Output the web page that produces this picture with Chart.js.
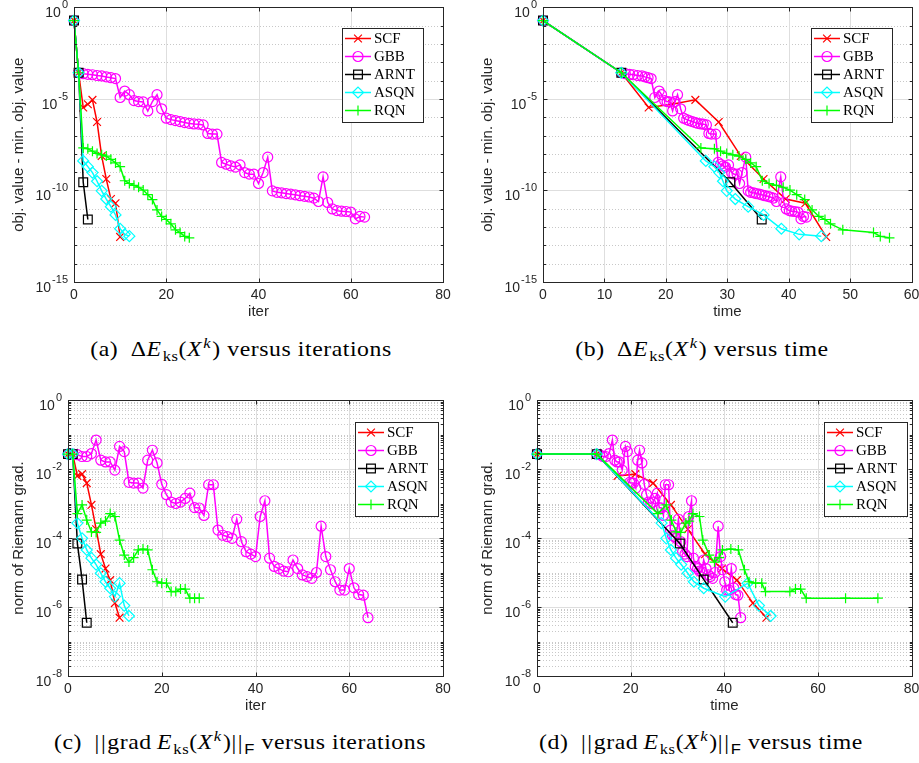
<!DOCTYPE html>
<html>
<head>
<meta charset="utf-8">
<script src="https://cdn.jsdelivr.net/npm/chart.js@4.4.0/dist/chart.umd.min.js"></script>
<style>
  body { margin: 0; background: #fff; }
  #page { position: relative; width: 919px; height: 763px; overflow: hidden; background: #fff; }
  canvas { position: absolute; }
  .cap { position: absolute; font-family: "Liberation Serif", "Times New Roman", serif; font-size: 21px; color: #000; white-space: nowrap; transform: translateX(-50%) scaleX(1.13); line-height: 24px; letter-spacing: 0.5px; }
  .cap .lab { margin-right: 11px; }
  .cap sub, .cap sup { font-size: 70%; line-height: 0; }
  .cap i { margin-right: 1px; }
  .cap .nrm { letter-spacing: 1.5px; font-weight: 300; }
  .cap .sf { font-family: "Liberation Sans", Arial, sans-serif; font-style: normal; }
</style>
</head>
<body>
<div id="page">
  <canvas id="chartA" width="460" height="330" style="left:0;top:0"></canvas>
  <canvas id="chartB" width="459" height="330" style="left:460px;top:0"></canvas>
  <canvas id="chartC" width="460" height="330" style="left:0;top:390px"></canvas>
  <canvas id="chartD" width="459" height="330" style="left:460px;top:390px"></canvas>
  <div class="cap" style="left:241px;top:337px"><span class="lab">(a)</span>&Delta;<i>E</i><sub>ks</sub>(<i>X</i><sup><i>k</i></sup>) versus iterations</div>
  <div class="cap" style="left:702px;top:337px"><span class="lab">(b)</span>&Delta;<i>E</i><sub>ks</sub>(<i>X</i><sup><i>k</i></sup>) versus time</div>
  <div class="cap" style="left:240px;top:730px"><span class="lab">(c)</span><span class="nrm">||</span>grad&#8201;<i>E</i><sub>ks</sub>(<i>X</i><sup><i>k</i></sup>)<span class="nrm">||</span><sub class="sf">F</sub> versus iterations</div>
  <div class="cap" style="left:701px;top:730px"><span class="lab">(d)</span><span class="nrm">||</span>grad&#8201;<i>E</i><sub>ks</sub>(<i>X</i><sup><i>k</i></sup>)<span class="nrm">||</span><sub class="sf">F</sub> versus time</div>
</div>
<script>
// Series (x = iteration index or time in seconds)
const scfTime = [0, 12.75, 17.2, 21.0, 24.8, 28.6, 32.2, 35.9, 39.5, 42.7, 46.1, 49.0];
const scfObj = [1.9e-1, 2.7e-4, 3.4e-6, 5.1e-6, 8.9e-6, 5.5e-7, 7.6e-9, 4.2e-10, 3.4e-11, 2.0e-11, 2.9e-13];
const scfGrad = [2.7e-2, 2.7e-2, 6.3e-3, 7.1e-3, 3.9e-3, 9.1e-4, 1.8e-4, 3.4e-5, 1.3e-5, 6.0e-6, 1.3e-6, 4.9e-7];

const gbbTime = [0, 12.75, 13.4, 14.1, 14.7, 15.4, 16.1, 16.6, 17.1, 17.6,
  18.2, 18.9, 19.3, 19.8, 20.2, 20.6, 21.1, 21.5, 21.9, 22.4,
  22.9, 23.4, 23.8, 24.3, 24.8, 25.2, 25.7, 26.1, 26.6, 27.0,
  27.4, 28.1, 28.5, 28.9, 29.3, 29.7, 30.2, 30.7, 31.1, 31.6,
  32.0, 32.4, 33.0, 33.4, 33.8, 34.3, 34.7, 35.2, 35.6, 36.1,
  36.6, 37.0, 37.5, 38.0, 38.7, 39.2, 39.6, 40.1, 40.5, 41.0,
  41.5, 42.0, 42.4, 42.9, 43.5];
const gbbObj = [1.9e-1, 2.7e-4, 2.4e-4, 2.2e-4, 2.1e-4, 1.9e-4, 1.8e-4, 1.6e-4, 1.45e-4, 1.3e-4,
  1.2e-5, 2.7e-5, 1.7e-5, 8.1e-6, 7.2e-6, 6.9e-6, 2.2e-6, 7.2e-6, 1.7e-5, 2.9e-6,
  8.9e-7, 7.4e-7, 6.6e-7, 5.8e-7, 5.1e-7, 4.6e-7, 4.3e-7, 4.2e-7, 3.8e-7, 1.3e-7,
  1.2e-7, 1.2e-7, 3.4e-9, 2.7e-9, 2.2e-9, 1.9e-9, 2.5e-9, 9.5e-10, 7.8e-10, 7.8e-10,
  2.4e-10, 9.5e-10, 6.6e-9, 9.5e-11, 7.9e-11, 7.4e-11, 6.8e-11, 6.3e-11, 5.8e-11, 5.2e-11,
  4.8e-11, 4.4e-11, 3.8e-11, 2.5e-11, 5.5e-10, 2.2e-11, 9.8e-12, 7.9e-12, 7.4e-12, 7.1e-12,
  6.6e-12, 2.8e-12, 3.8e-12, 3.5e-12];
const gbbGrad = [2.7e-2, 2.7e-2, 2.6e-2, 2.3e-2, 2.3e-2, 2.8e-2, 6.9e-2, 1.8e-2, 1.6e-2, 1.6e-2,
  9.3e-3, 4.5e-2, 3.2e-2, 4.1e-3, 3.9e-3, 3.9e-3, 2.8e-3, 1.8e-2, 3.5e-2, 1.5e-2,
  3.6e-3, 1.8e-3, 1.1e-3, 1.0e-3, 1.1e-3, 1.4e-3, 2.0e-3, 7.6e-4, 7.4e-4, 4.5e-4,
  3.5e-3, 3.5e-3, 1.7e-4, 1.2e-4, 1.1e-4, 9.8e-5, 3.5e-4, 7.8e-5, 4.0e-5, 3.4e-5,
  2.9e-5, 4.2e-4, 1.2e-3, 2.6e-5, 1.5e-5, 1.3e-5, 1.1e-5, 1.05e-5, 2.3e-5, 1.3e-5,
  8.5e-6, 7.6e-6, 6.8e-6, 1.0e-5, 2.2e-4, 2.9e-5, 1.2e-5, 5.4e-6, 3.1e-6, 3.1e-6,
  1.3e-5, 3.6e-6, 2.3e-6, 2.2e-6, 4.9e-7];

const arntTime = [0, 12.75, 30.5, 35.6, 41.8];
const arntObj = [1.9e-1, 2.7e-4, 2.8e-10, 2.6e-12];
const arntGrad = [2.7e-2, 2.7e-2, 6.9e-5, 6.3e-6, 3.5e-7];

const asqnObjTime = [0, 12.75, 26.5, 27.9, 28.7, 29.3, 29.9, 31.3, 33.4, 35.9, 38.8, 41.7, 45.3];
const asqnObj = [1.9e-1, 2.7e-4, 4.1e-9, 2.0e-9, 9.5e-10, 3.2e-10, 9.5e-11, 3.4e-11, 1.3e-11, 4.6e-12, 8.1e-13, 4.0e-13, 3.2e-13];
const asqnGradTime = [0, 12.75, 26.6, 27.6, 28.6, 29.7, 30.8, 32.2, 33.5, 35.6, 40.2, 45.0, 47.4, 49.9];
const asqnGrad = [2.7e-2, 2.7e-2, 2.7e-4, 9.8e-5, 4.5e-5, 2.6e-5, 1.7e-5, 9.5e-6, 5.4e-6, 3.5e-6, 2.0e-6, 4.9e-6, 1.1e-6, 5.5e-7];

const rqnObjTime = [0, 12.75, 25.7, 27.9, 28.9, 29.9, 30.9, 31.9, 33.0, 33.8, 34.7, 35.7, 36.8,
  38.0, 39.1, 40.2, 41.3, 42.6, 43.8, 44.9, 45.9, 46.8, 48.8, 53.8, 54.9, 56.4];
const rqnObj = [1.9e-1, 2.7e-4, 2.1e-8, 1.9e-8, 1.4e-8, 1.05e-8, 8.9e-9, 7.6e-9, 5.0e-9, 3.2e-9, 2.0e-9,
  3.4e-10, 2.4e-10, 1.9e-10, 1.5e-10, 1.05e-10, 5.9e-11, 3.2e-11, 8.7e-12, 3.8e-12, 2.6e-12,
  1.5e-12, 7.1e-13, 5.0e-13, 3.1e-13, 2.6e-13];
const rqnGradTime = [0, 12.75, 25.8, 27.6, 28.7, 29.7, 30.7, 31.8, 32.5, 33.3, 34.7, 35.4, 36.8, 37.9,
  38.9, 39.6, 41.4, 43.0, 44.3, 45.3, 46.7, 48.0, 48.8, 54.0, 55.2, 56.3, 57.5, 65.9, 72.8];
const rqnGrad = [2.7e-2, 2.7e-2, 5.1e-4, 9.1e-4, 3.3e-4, 1.5e-4, 1.45e-4, 2.7e-4, 3.1e-4, 5.1e-4,
  4.2e-4, 8.7e-5, 3.2e-5, 2.0e-5, 2.7e-5, 4.5e-5, 4.8e-5, 4.5e-5, 1.2e-5, 5.4e-6,
  4.9e-6, 4.9e-6, 2.8e-6, 2.8e-6, 3.3e-6, 3.3e-6, 1.8e-6, 1.8e-6, 1.8e-6];

// axis ticks
const iterTicks = [0, 20, 40, 60, 80];
const timeTicksB = [0, 10, 20, 30, 40, 50, 60];
const timeTicksD = [0, 20, 40, 60, 80];
const objYTicks = [1, 1e-5, 1e-10, 1e-15];
const objYLabels = ['0', '-5', '-10', '-15'];
const gradYTicks = [1, 1e-2, 1e-4, 1e-6, 1e-8];
const gradYLabels = ['0', '-2', '-4', '-6', '-8'];

// minor grid positions
const objYMinor = [];
for (let k = -1; k >= -14; k--) if (k % 5 !== 0) objYMinor.push(Math.pow(10, k));
const gradYMinor = [];
for (let k = 0; k >= -8; k--) {
  if (k % 2 !== 0) gradYMinor.push(Math.pow(10, k));
  if (k > -8) for (let m = 2; m <= 9; m++) gradYMinor.push(m * Math.pow(10, k - 1));
}

const methods = [
  { label: 'SCF', color: '#ff0000', pointStyle: 'crossRot', radius: 5.5 },
  { label: 'GBB', color: '#ff00ff', pointStyle: 'circle', radius: 5 },
  { label: 'ARNT', color: '#000000', pointStyle: 'rect', radius: 6.2 },
  { label: 'ASQN', color: '#00ffff', pointStyle: 'rectRot', radius: 5.5 },
  { label: 'RQN', color: '#00ff00', pointStyle: 'cross', radius: 5 }
];

const axisColor = '#262626';
const tickFont = '14px "Liberation Sans", Arial, Helvetica, sans-serif';
const supFont = '11px "Liberation Sans", Arial, Helvetica, sans-serif';
const titleFont = '15px "Liberation Sans", Arial, Helvetica, sans-serif';
const legendFont = '15px "Liberation Serif", "Times New Roman", serif';

function line(ctx, x1, y1, x2, y2) {
  ctx.beginPath();
  ctx.moveTo(x1, y1);
  ctx.lineTo(x2, y2);
  ctx.stroke();
}

// MATLAB-looking axes: grid, box, inward ticks, labels, legend
const matlabAxes = {
  id: 'matlabAxes',
  beforeDatasetsDraw(chart, args, o) {
    const { ctx, chartArea: a } = chart;
    const sx = chart.scales.x, sy = chart.scales.y;
    ctx.save();
    ctx.lineWidth = 1;
    ctx.strokeStyle = '#c8c8c8';
    ctx.setLineDash([1, 2]);
    o.yMinor.forEach(v => {
      const py = Math.round(sy.getPixelForValue(v)) + 0.5;
      line(ctx, a.left, py, a.right, py);
    });
    ctx.setLineDash([]);
    ctx.strokeStyle = '#dedede';
    o.yTicks.forEach(v => {
      const py = Math.round(sy.getPixelForValue(v)) + 0.5;
      line(ctx, a.left, py, a.right, py);
    });
    o.xTicks.forEach(v => {
      const px = Math.round(sx.getPixelForValue(v)) + 0.5;
      line(ctx, px, a.top, px, a.bottom);
    });
    ctx.restore();
  },
  afterDatasetsDraw(chart, args, o) {
    const { ctx, chartArea: a } = chart;
    const sx = chart.scales.x, sy = chart.scales.y;
    ctx.save();
    ctx.strokeStyle = axisColor;
    ctx.fillStyle = axisColor;
    ctx.lineWidth = 1;
    const L = Math.round(a.left) + 0.5, R = Math.round(a.right) + 0.5;
    const T = Math.round(a.top) + 0.5, B = Math.round(a.bottom) + 0.5;
    ctx.strokeRect(L, T, R - L, B - T);

    // ticks
    o.yMinor.forEach(v => {
      const py = Math.round(sy.getPixelForValue(v)) + 0.5;
      line(ctx, L, py, L + 2.5, py);
      line(ctx, R, py, R - 2.5, py);
    });
    o.yTicks.forEach(v => {
      const py = Math.round(sy.getPixelForValue(v)) + 0.5;
      line(ctx, L, py, L + 4, py);
      line(ctx, R, py, R - 4, py);
    });
    o.xTicks.forEach(v => {
      const px = Math.round(sx.getPixelForValue(v)) + 0.5;
      line(ctx, px, B, px, B - 4);
      line(ctx, px, T, px, T + 4);
    });

    // x tick labels
    ctx.font = tickFont;
    ctx.textAlign = 'center';
    ctx.textBaseline = 'middle';
    o.xTicks.forEach(v => ctx.fillText(String(v), sx.getPixelForValue(v), a.bottom + 13));

    // y tick labels as 10^k
    ctx.textAlign = 'left';
    ctx.textBaseline = 'alphabetic';
    o.yTicks.forEach((v, i) => {
      const py = sy.getPixelForValue(v);
      ctx.font = supFont;
      const sup = o.yLabels[i];
      const sw = ctx.measureText(sup).width;
      const supX = a.left - 6 - sw;
      ctx.fillText(sup, supX, py + 1);
      ctx.font = tickFont;
      const bw = ctx.measureText('10').width;
      ctx.fillText('10', supX - bw - 1, py + 10);
    });

    // axis titles
    ctx.font = titleFont;
    ctx.textAlign = 'center';
    ctx.textBaseline = 'middle';
    ctx.fillText(o.xTitle, (a.left + a.right) / 2, a.bottom + 30);
    ctx.save();
    ctx.translate(a.left - o.yTitleOffset, (a.top + a.bottom) / 2);
    ctx.rotate(-Math.PI / 2);
    ctx.fillText(o.yTitle, 0, 0);
    ctx.restore();

    // legend
    const lg = o.legend;
    ctx.fillStyle = '#ffffff';
    ctx.fillRect(lg.left, lg.top, lg.width, lg.height);
    ctx.strokeStyle = axisColor;
    ctx.lineWidth = 1;
    ctx.strokeRect(Math.round(lg.left) + 0.5, Math.round(lg.top) + 0.5, Math.round(lg.width), Math.round(lg.height));
    ctx.font = legendFont;
    ctx.textAlign = 'left';
    ctx.textBaseline = 'middle';
    methods.forEach((m, i) => {
      const yy = lg.top + 10.5 + 18 * i;
      ctx.strokeStyle = m.color;
      ctx.lineWidth = 1.5;
      line(ctx, lg.left + 3, yy, lg.left + 29, yy);
      ctx.lineWidth = 1.2;
      ctx.fillStyle = 'rgba(0,0,0,0)';
      Chart.helpers.drawPoint(ctx, { pointStyle: m.pointStyle, radius: m.radius, rotation: 0, borderWidth: 1.2 }, lg.left + 16, yy);
      ctx.fillStyle = '#000000';
      ctx.fillText(m.label, lg.left + 32, yy + 1);
    });
    ctx.restore();
  }
};

function series(m, xs, ys, idx) {
  return {
    label: m.label,
    data: ys.map((v, i) => ({ x: xs ? xs[i] : i, y: v })),
    borderColor: m.color,
    backgroundColor: 'transparent',
    borderWidth: 1.5,
    pointStyle: m.pointStyle,
    pointRadius: m.radius,
    pointBorderWidth: 1.2,
    pointBorderColor: m.color,
    pointBackgroundColor: 'transparent',
    tension: 0,
    clip: false,
    order: 5 - idx
  };
}

function makeChart(id, datasets, cfg) {
  return new Chart(document.getElementById(id), {
    type: 'line',
    data: { datasets },
    options: {
      responsive: false,
      animation: false,
      events: [],
      layout: { padding: cfg.padding },
      scales: {
        x: { type: 'linear', min: 0, max: cfg.xMax, display: false },
        y: { type: 'logarithmic', min: cfg.yMin, max: 1, display: false }
      },
      plugins: {
        legend: { display: false },
        tooltip: { enabled: false },
        matlabAxes: cfg.axes
      }
    },
    plugins: [matlabAxes]
  });
}

// (a) objective vs iterations
makeChart('chartA', [
  series(methods[0], null, scfObj, 0),
  series(methods[1], null, gbbObj, 1),
  series(methods[2], null, arntObj, 2),
  series(methods[3], null, asqnObj, 3),
  series(methods[4], null, rqnObj, 4)
], {
  padding: { left: 74, top: 5, right: 17, bottom: 48 },
  xMax: 80, yMin: 1e-15,
  axes: { xTicks: iterTicks, yTicks: objYTicks, yLabels: objYLabels, yMinor: objYMinor,
    xTitle: 'iter', yTitle: 'obj. value - min. obj. value', yTitleOffset: 55,
    legend: { left: 342, top: 28, width: 81, height: 94 } }
});

// (b) objective vs time
makeChart('chartB', [
  series(methods[0], scfTime, scfObj, 0),
  series(methods[1], gbbTime, gbbObj, 1),
  series(methods[2], arntTime, arntObj, 2),
  series(methods[3], asqnObjTime, asqnObj, 3),
  series(methods[4], rqnObjTime, rqnObj, 4)
], {
  padding: { left: 83, top: 5, right: 6, bottom: 48 },
  xMax: 60, yMin: 1e-15,
  axes: { xTicks: timeTicksB, yTicks: objYTicks, yLabels: objYLabels, yMinor: objYMinor,
    xTitle: 'time', yTitle: 'obj. value - min. obj. value', yTitleOffset: 55,
    legend: { left: 351, top: 28, width: 81, height: 94 } }
});

// (c) gradient norm vs iterations
makeChart('chartC', [
  series(methods[0], null, scfGrad, 0),
  series(methods[1], null, gbbGrad, 1),
  series(methods[2], null, arntGrad, 2),
  series(methods[3], null, asqnGrad, 3),
  series(methods[4], null, rqnGrad, 4)
], {
  padding: { left: 68, top: 10, right: 17, bottom: 44 },
  xMax: 80, yMin: 1e-8,
  axes: { xTicks: iterTicks, yTicks: gradYTicks, yLabels: gradYLabels, yMinor: gradYMinor,
    xTitle: 'iter', yTitle: 'norm of Riemann grad.', yTitleOffset: 49,
    legend: { left: 355, top: 32, width: 83, height: 94 } }
});

// (d) gradient norm vs time
makeChart('chartD', [
  series(methods[0], scfTime, scfGrad, 0),
  series(methods[1], gbbTime, gbbGrad, 1),
  series(methods[2], arntTime, arntGrad, 2),
  series(methods[3], asqnGradTime, asqnGrad, 3),
  series(methods[4], rqnGradTime, rqnGrad, 4)
], {
  padding: { left: 77, top: 10, right: 6, bottom: 44 },
  xMax: 80, yMin: 1e-8,
  axes: { xTicks: timeTicksD, yTicks: gradYTicks, yLabels: gradYLabels, yMinor: gradYMinor,
    xTitle: 'time', yTitle: 'norm of Riemann grad.', yTitleOffset: 49,
    legend: { left: 364, top: 32, width: 83, height: 94 } }
});
</script>
</body>
</html>
